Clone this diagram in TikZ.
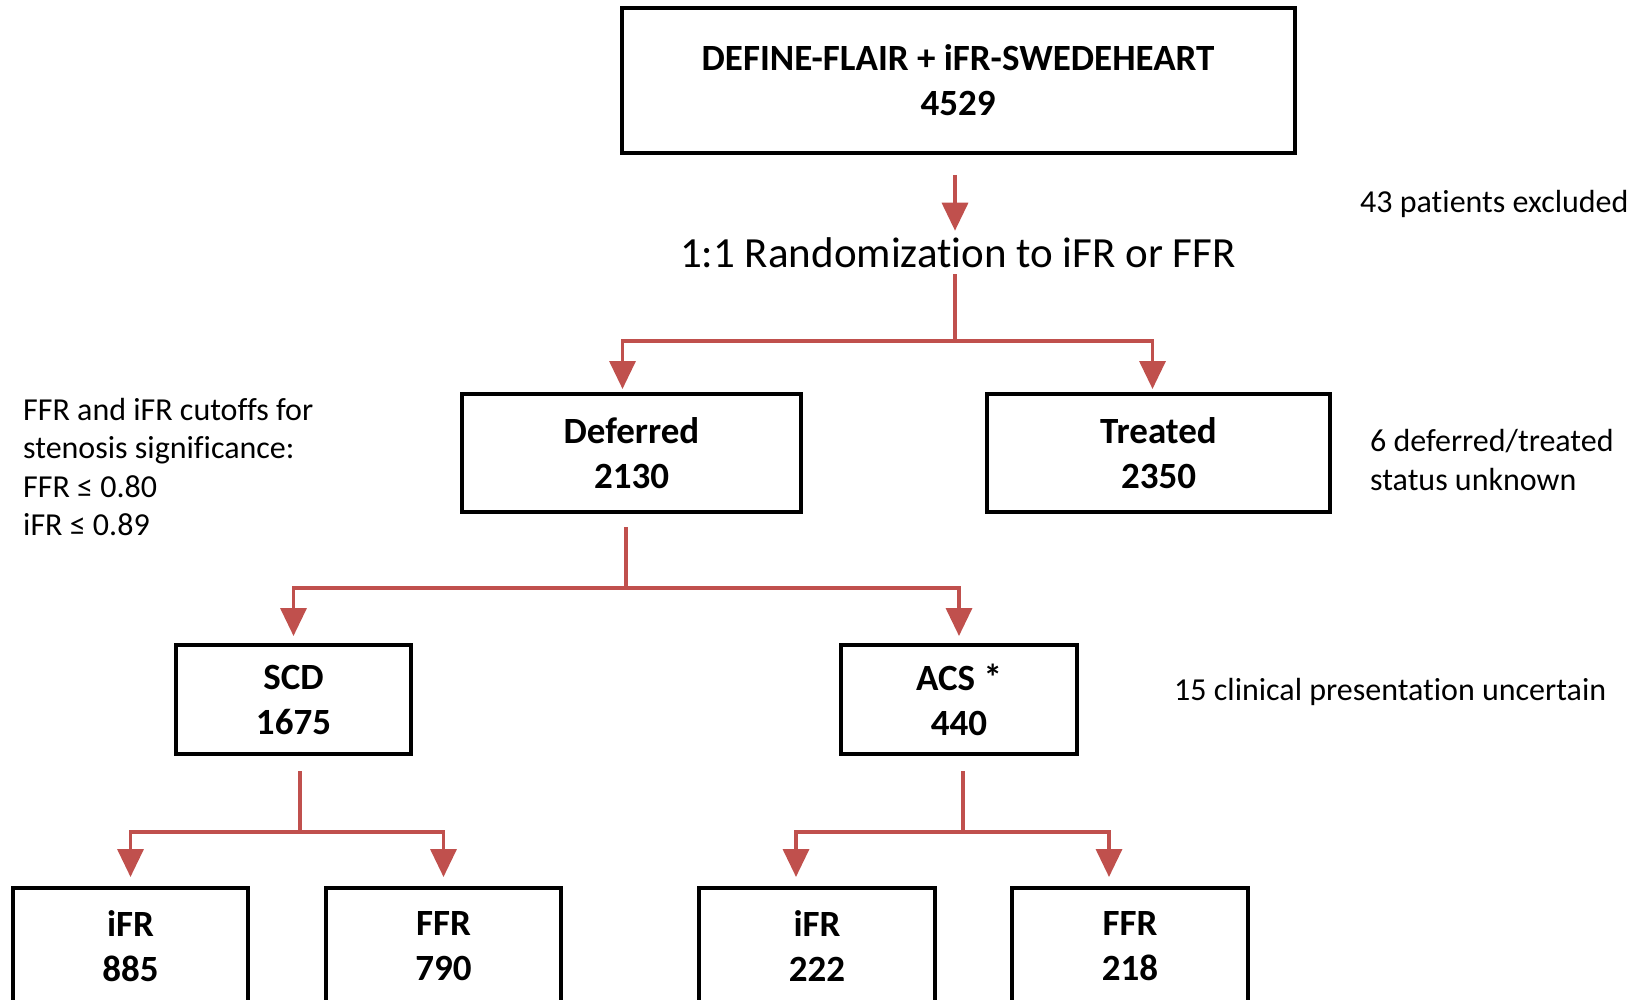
\documentclass[tikz,border=0pt]{standalone}
\usepackage{fontspec}
\setmainfont{Carlito}[Ligatures={NoCommon,NoContextual}, Contextuals=NoAlternate]
\usepackage{tikz}
\usetikzlibrary{positioning, arrows.meta}
\definecolor{flowred}{RGB}{192,80,77}

\begin{document}
\begin{tikzpicture}[
    x=1pt, y=-1pt, % one unit is one pixel of the reference
    box/.style={draw, line width=4pt, align=center, inner sep=0pt,
        font=\fontsize{37}{45}\selectfont\bfseries},
    note/.style={align=left, inner sep=0pt, anchor=west,
        font=\fontsize{32}{38.5}\selectfont},
    link/.style={draw=flowred, line width=3.5pt},
    flow/.style={link, -{Triangle[width=26pt, length=28pt]}}
]
    \useasboundingbox (0,0) rectangle (1645,1000);

    % 1. Define the nodes using explicit coordinates
    \node[box, minimum width=673pt, minimum height=145pt] (top) at (958,80.5)
        {DEFINE-FLAIR + iFR-SWEDEHEART\\4529};
    \node[inner sep=0pt, font=\fontsize{43}{50}\selectfont] (rand) at (958,253)
        {1:1 Randomization to iFR or FFR};
    \node[box, minimum width=339pt, minimum height=118pt] (deferred) at (631.5,453)
        {Deferred\\2130};
    \node[box, minimum width=343pt, minimum height=118pt] (treated) at (1158.5,453)
        {Treated\\2350};
    \node[box, minimum width=235pt, minimum height=109pt] (scd) at (293.5,699.5)
        {SCD\\1675};
    \node[box, minimum width=236pt, minimum height=109pt] (acs) at (959,699.5)
        {ACS *\\440};
    \node[box, minimum width=235pt, minimum height=116pt] (ifra) at (130.5,946)
        {iFR\\885};
    \node[box, minimum width=235pt, minimum height=116pt] (ffra) at (443.5,946)
        {FFR\\790};
    \node[box, minimum width=236pt, minimum height=116pt] (ifrb) at (817,946)
        {iFR\\222};
    \node[box, minimum width=236pt, minimum height=116pt] (ffrb) at (1130,946)
        {FFR\\218};

    % side notes
    \node[note] (excl) at (1360,204) {43 patients excluded};
    \node[note] (unknown) at (1370,460) {6 deferred/treated\\status unknown};
    \node[note] (uncert) at (1174,692) {15 clinical presentation uncertain};
    \node[note] (cutoff) at (23,467)
        {FFR and iFR cutoffs for\\stenosis significance:\\FFR ≤ 0.80\\iFR ≤ 0.89};

    % 2. Split points of the connectors
    \coordinate (s1) at (955,341);
    \coordinate (s2) at (626,588);
    \coordinate (s3) at (300,832);
    \coordinate (s4) at (963,832);

    % 3. Draw the arrows
    \draw[flow, shorten <=20pt, shorten >=7pt] (top.south -| s1) -- (rand.north -| s1);
    \draw[link, shorten <=6pt] (rand.south -| s1) -- (s1);
    \draw[flow, shorten >=3pt] (s1) -| ([xshift=-9pt]deferred.north);
    \draw[flow, shorten >=3pt] (s1) -| ([xshift=-6pt]treated.north);

    \draw[link, shorten <=13pt] (deferred.south -| s2) -- (s2);
    \draw[flow, shorten >=7pt] (s2) -| (scd.north);
    \draw[flow, shorten >=7pt] (s2) -| (acs.north);

    \draw[link, shorten <=15pt] (scd.south -| s3) -- (s3);
    \draw[flow, shorten >=9pt] (s3) -| (ifra.north);
    \draw[flow, shorten >=9pt] (s3) -| (ffra.north);

    \draw[link, shorten <=15pt] (acs.south -| s4) -- (s4);
    \draw[flow, shorten >=9pt] (s4) -| ([xshift=-21pt]ifrb.north);
    \draw[flow, shorten >=9pt] (s4) -| ([xshift=-21pt]ffrb.north);
\end{tikzpicture}
\end{document}
